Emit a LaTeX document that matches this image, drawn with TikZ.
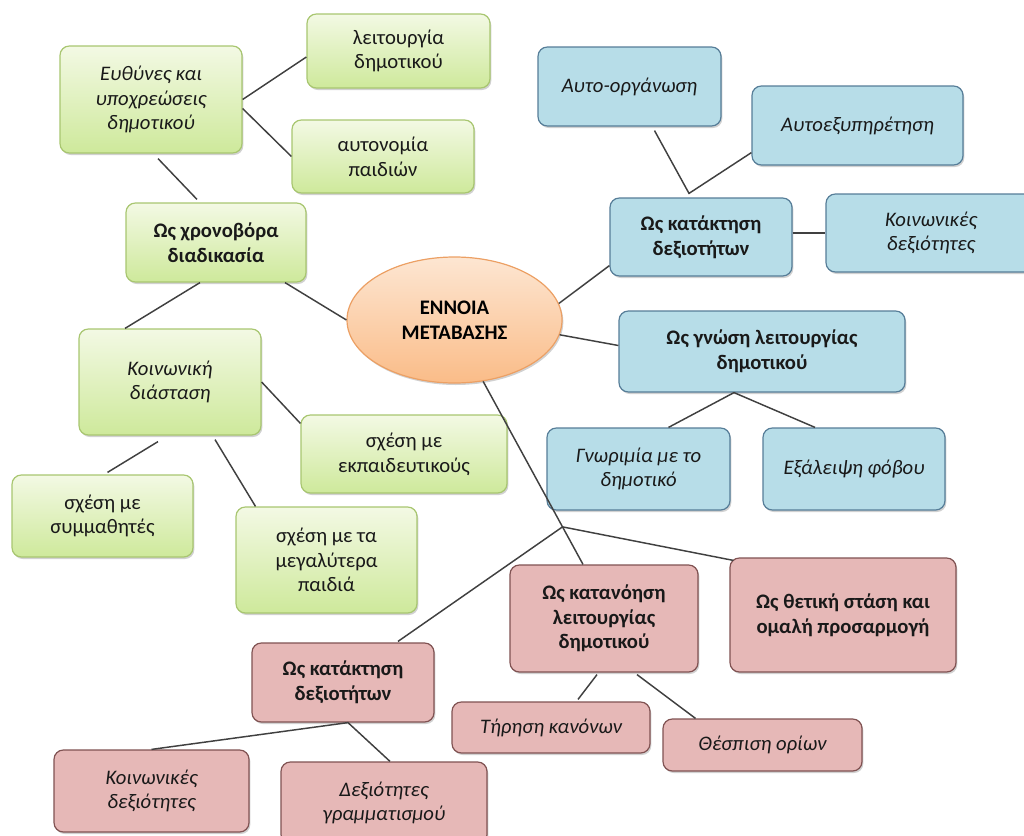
\documentclass[tikz,border=0pt]{standalone}
\usepackage{fontspec}
\setmainfont{Carlito}
\usetikzlibrary{shapes.geometric,shadows,calc}

\definecolor{lineGrey}{RGB}{64,64,64}
\definecolor{greenTop}{RGB}{243,249,228}
\definecolor{greenBot}{RGB}{206,233,155}
\definecolor{greenLine}{RGB}{168,198,112}
\definecolor{blueFill}{RGB}{183,221,232}
\definecolor{blueLine}{RGB}{86,125,152}
\definecolor{redFill}{RGB}{230,184,183}
\definecolor{redLine}{RGB}{128,82,82}
\definecolor{orangeTop}{RGB}{253,230,210}
\definecolor{orangeBot}{RGB}{250,188,136}
\definecolor{orangeLine}{RGB}{236,160,100}

\newcommand\mapfont{\fontsize{15.5}{18.5}\selectfont}

\tikzset{
  mapbox/.style={rounded corners=7pt, line width=0.9pt, align=center, inner sep=0pt,
    font=\mapfont, text=black!90,
    drop shadow={shadow xshift=1pt, shadow yshift=-1.5pt, opacity=0.3, fill=black!60}},
  greenbox/.style={mapbox, draw=greenLine, top color=greenTop, bottom color=greenBot},
  bluebox/.style={mapbox, draw=blueLine, fill=blueFill},
  redbox/.style={mapbox, draw=redLine, fill=redFill},
  itxt/.style={font=\mapfont\itshape},
  btxt/.style={font=\mapfont\bfseries},
  dims/.style 2 args={minimum width=#1, minimum height=#2},
  conn/.style={draw=lineGrey, line width=1.1pt},
}

\begin{document}
\begin{tikzpicture}[x=0.75pt,y=0.75pt,yscale=-1,xscale=1]
\useasboundingbox (0,0) rectangle (1024,835);
\clip (0,0) rectangle (1024,835);

%Rounded Rect -- green branch
\node[greenbox, itxt, dims={136.5pt}{80.25pt}] (euth) at (151,99.5) {Ευθύνες και\\υποχρεώσεις\\δημοτικού};
\node[greenbox, dims={137.25pt}{55.5pt}] (leit) at (398.5,51) {λειτουργία\\δημοτικού};
\node[greenbox, dims={136.5pt}{54.75pt}] (auton) at (383,156.5) {αυτονομία\\παιδιών};
\node[greenbox, btxt, dims={135pt}{59.25pt}] (xron) at (216,242.5) {Ως χρονοβόρα\\διαδικασία};
\node[greenbox, itxt, dims={136.5pt}{79.5pt}] (koinD) at (170,382) {Κοινωνική\\διάσταση};
\node[greenbox, dims={154.5pt}{58.5pt}] (ekp) at (404,454) {σχέση με\\εκπαιδευτικούς};
\node[greenbox, dims={135.75pt}{61.5pt}] (symm) at (102.5,516) {σχέση με\\συμμαθητές};
\node[greenbox, dims={135.75pt}{79.5pt}] (megal) at (326.5,560) {σχέση με τα\\μεγαλύτερα\\παιδιά};

%Ellipse -- centre
\node[ellipse, draw=orangeLine, line width=0.9pt, top color=orangeTop, bottom color=orangeBot,
  btxt, align=center, inner sep=0pt, dims={161.25pt}{94.5pt},
  drop shadow={shadow xshift=1pt, shadow yshift=-1.5pt, opacity=0.3, fill=black!60}] (ell) at (454.5,320) {ΈΝΝΟΙΑ\\ΜΕΤΑΒΑΣΗΣ};

%Rounded Rect -- blue branch
\node[bluebox, itxt, dims={137.25pt}{59.25pt}] (aorg) at (629.5,86.5) {Αυτο-οργάνωση};
\node[bluebox, itxt, dims={158.25pt}{59.25pt}] (aexy) at (857.5,125.5) {Αυτοεξυπηρέτηση};
\node[bluebox, btxt, dims={136.5pt}{58.5pt}] (katB) at (701,237) {Ως κατάκτηση\\δεξιοτήτων};
\node[bluebox, itxt, dims={157.5pt}{58.5pt}] (koinB) at (931,233) {Κοινωνικές\\δεξιότητες};
\node[bluebox, btxt, dims={214.5pt}{60.75pt}] (gnosi) at (762,351.5) {Ως γνώση λειτουργίας\\δημοτικού};
\node[bluebox, itxt, dims={137.25pt}{61.5pt}] (gnor) at (638.5,469) {Γνωριμία με το\\δημοτικό};
\node[bluebox, itxt, dims={136.5pt}{61.5pt}] (exal) at (854,469) {Εξάλειψη φόβου};

%Rounded Rect -- red branch
\node[redbox, btxt, dims={141pt}{80.25pt}] (katan) at (604,618.5) {Ως κατανόηση\\λειτουργίας\\δημοτικού};
\node[redbox, btxt, dims={169.5pt}{85.5pt}] (thet) at (843,615) {Ως θετική στάση και\\ομαλή προσαρμογή};
\node[redbox, itxt, dims={148.5pt}{38.25pt}] (tiri) at (551,727.5) {Τήρηση κανόνων};
\node[redbox, itxt, dims={149.25pt}{39pt}] (thesp) at (762.5,745) {Θέσπιση ορίων};
\node[redbox, btxt, dims={136.5pt}{59.25pt}] (katR) at (343,682.5) {Ως κατάκτηση\\δεξιοτήτων};
\node[redbox, itxt, dims={146.25pt}{61.5pt}] (koinR) at (151.5,791) {Κοινωνικές\\δεξιότητες};
\node[redbox, itxt, dims={154.5pt}{61.5pt}] (gram) at (384,803) {Δεξιότητες\\γραμματισμού};

%Junctions
\coordinate (jB) at ($(katB.north)+(-12,-4)$);
\coordinate (jG) at ($(gnosi.south)+(-28,0)$);
\coordinate (katanTop) at ($(katan.north)+(-21,0)$);
\coordinate (jR) at ($(ell.-65)!0.795!(katanTop)$);
\coordinate (jK) at ($(katR.south)+(5,0)$);

%Straight Lines -- green
\draw[conn] (euth.east) -- ($(leit.west)+(0,6)$);
\draw[conn] ($(euth.east)+(0,9)$) -- (auton.west);
\draw[conn] ($(euth.south)+(7,5)$) -- ($(xron.north)+(-19,-3)$);
\draw[conn] ($(xron.south)+(-16,0)$) -- ($(koinD.north)+(-45,0)$);
\draw[conn] ($(xron.south)+(69,0)$) -- (ell.west);
\draw[conn] (koinD.east) -- ($(ekp.north west)+(0,9)$);
\draw[conn] ($(koinD.south)+(-12,6)$) -- ($(symm.north)+(5,-2)$);
\draw[conn] ($(koinD.south)+(45,4)$) -- ($(megal.north)+(-71,0)$);

%Straight Lines -- blue
\draw[conn] (ell.9) -- ($(katB.south west)+(0,-11)$);
\draw[conn] ($(aorg.south)+(25,4)$) -- (jB) -- ($(aexy.south west)+(0,-13)$);
\draw[conn] ($(katB.east)+(0,-4)$) -- (koinB.west);
\draw[conn] (ell.-8) -- ($(gnosi.west)+(0,-6)$);
\draw[conn] ($(gnor.north)+(30,0)$) -- (jG) -- ($(exal.north)+(-39,0)$);

%Straight Lines -- red
\draw[conn] (ell.-65) -- (katanTop);
\draw[conn] ($(katR.north)+(55,-1)$) -- (jR) -- ($(thet.north west)+(4,3)$);
\draw[conn] ($(katan.south)+(-7,2)$) -- ($(tiri.north)+(27,-2)$);
\draw[conn] ($(katan.south)+(33,2)$) -- ($(thesp.north)+(-67,0)$);
\draw[conn] (koinR.north) -- (jK) -- ($(gram.north)+(6,0)$);

\end{tikzpicture}
\end{document}
